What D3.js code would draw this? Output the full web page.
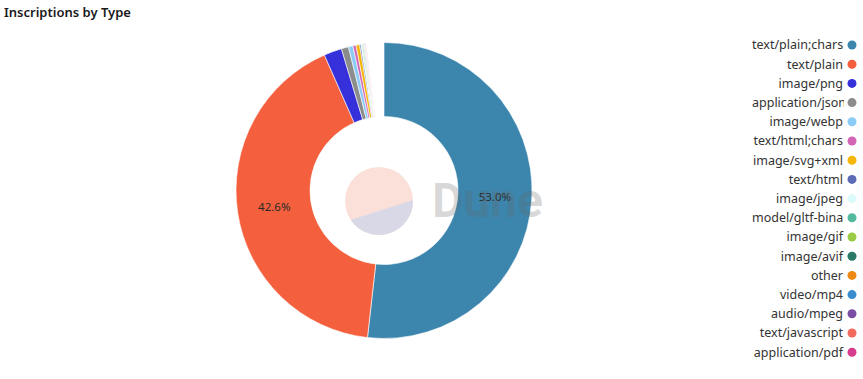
<!DOCTYPE html>
<html><head><meta charset="utf-8">
<script src="https://cdn.jsdelivr.net/npm/d3@7"></script>
<style>
html,body{margin:0;padding:0;background:#fff;}
svg{display:block;font-family:"Noto Sans","Open Sans",sans-serif;}
</style></head>
<body>
<svg id="chart" width="863" height="379"></svg>
<script>
const title = "Inscriptions by Type";
const categories = ["text/plain;chars","text/plain","image/png","application/json","image/webp","text/html;chars","image/svg+xml","text/html","image/jpeg","model/gltf-binary","image/gif","image/avif","other","video/mp4","audio/mpeg","text/javascript","application/pdf"];
const shares = [53.0,42.6,2.0,0.8,0.5,0.35,0.4,0.15,0.12,0.1,0.08,0.06,0.05,0.05,0.04,0.03,0.03];
const colors = ["#3c86ae","#f4603e","#3530d9","#8c8c8c","#8ccbf5","#d265b5","#f5b60c","#5b6bb5","#dcfafa","#55b9a0","#9acb44","#2a7a68","#ec8a14","#3a8ccf","#7a4fa3","#f06a5e","#d63c8c"];

const svg = d3.select("#chart");

svg.append("text").attr("x",4).attr("y",17).attr("font-size",13).attr("font-weight",600)
  .attr("fill","#1a1a1a").text(title);

const cx = 384, cy = 190.5, R = 148, r0 = 74;
const data = categories.map((c,i)=>({name:c,value:shares[i],color:colors[i]}));
const pie = d3.pie().value(d=>d.value).sort(null).startAngle(0).endAngle(2*Math.PI*353/360);
const arcs = pie(data);
const arc = d3.arc().innerRadius(r0).outerRadius(R);
const g = svg.append("g").attr("transform",`translate(${cx},${cy})`);
g.selectAll("path.slice").data(arcs).join("path").attr("class","slice")
  .attr("d",arc).attr("fill",d=>d.data.color).attr("stroke","#fff").attr("stroke-width",0.6);

// watermark
const wm = svg.append("g").attr("pointer-events","none");
const lc = {x:379, y:201, r:34};
wm.append("circle").attr("cx",lc.x).attr("cy",lc.y).attr("r",lc.r).attr("fill","#fbe0da");
const a1 = Math.atan2(19,-28.3), a2 = Math.atan2(-1,33.5);
const p1 = [lc.x+lc.r*Math.cos(a1), lc.y+lc.r*Math.sin(a1)];
const p2 = [lc.x+lc.r*Math.cos(a2), lc.y+lc.r*Math.sin(a2)];
wm.append("path").attr("d",`M${p1[0]},${p1[1]} L${p2[0]},${p2[1]} A${lc.r},${lc.r} 0 0 1 ${p1[0]},${p1[1]} Z`).attr("fill","#d9d8e6");
wm.append("text").attr("x",432).attr("y",217).attr("font-size",48).attr("font-weight",700)
  .attr("font-family","Roboto, 'Noto Sans', sans-serif")
  .attr("fill","rgb(100,100,100)").attr("fill-opacity",0.25).text("Dune");

// labels
const labelArc = d3.arc().innerRadius((R+r0)/2).outerRadius((R+r0)/2);
g.selectAll("text.lbl").data(arcs.filter(d=>d.value>5)).join("text").attr("class","lbl")
  .attr("transform",d=>`translate(${labelArc.centroid(d)})`)
  .attr("text-anchor","middle").attr("dy","0.35em").attr("font-size",11.5).attr("fill","#2a2a2a")
  .text(d=>d.value.toFixed(1)+"%");

// legend
const lx = 843, maxW = 91, ly0 = 45, ldy = 19.2;
const defs = svg.append("defs");
defs.append("clipPath").attr("id","legclip").append("rect").attr("x",lx-maxW).attr("y",30).attr("width",maxW+1).attr("height",340);
const leg = svg.append("g");
const lt = leg.append("g").attr("clip-path","url(#legclip)");
data.forEach((d,i)=>{
  const y = ly0 + i*ldy;
  const t = lt.append("text").attr("y",y).attr("dy","0.35em").attr("font-size",12.5).attr("fill","#333").text(d.name);
  const w = t.node().getComputedTextLength();
  if (w <= maxW) t.attr("x",lx).attr("text-anchor","end");
  else t.attr("x",lx-maxW).attr("text-anchor","start");
  leg.append("circle").attr("cx",852).attr("cy",y).attr("r",4.5).attr("fill",d.color);
});
</script>
</body></html>
